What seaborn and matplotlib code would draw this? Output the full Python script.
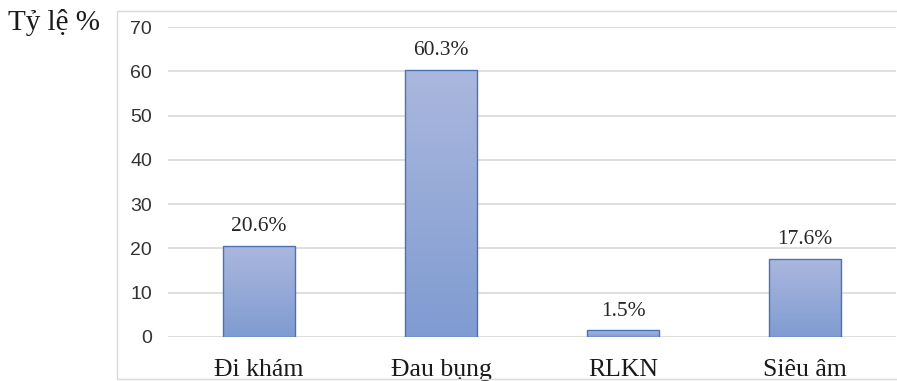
import numpy as np
import pandas as pd
import seaborn as sns
import matplotlib.pyplot as plt
from matplotlib.patches import Rectangle

# data
categories = ["Đi khám", "Đau bụng", "RLKN", "Siêu âm"]
values = [20.6, 60.3, 1.5, 17.6]
labels = ["20.6%", "60.3%", "1.5%", "17.6%"]
yticks = [0, 10, 20, 30, 40, 50, 60, 70]

df = pd.DataFrame({"cat": categories, "val": values})

sns.set_style("white")
plt.rcParams["font.family"] = ["Liberation Serif", "DejaVu Serif"]

fig = plt.figure(figsize=(8.97, 3.81), dpi=100)
ax = fig.add_axes([0.1873, 0.1155, 0.8116, 0.8136])

sns.barplot(data=df, x="cat", y="val", width=0.4, color="#91a7d6",
            edgecolor="#4a72b8", linewidth=1.0, ax=ax, zorder=3)

# gradient fill clipped to each bar
grad = np.linspace(0, 1, 256).reshape(-1, 1)
top_c = np.array([0.67, 0.72, 0.87])
bot_c = np.array([0.50, 0.61, 0.82])
img = top_c + (bot_c - top_c) * grad
img = img.reshape(256, 1, 3)
for p in ax.patches:
    x0, y0 = p.get_x(), p.get_y()
    w, h = p.get_width(), p.get_height()
    im = ax.imshow(img, extent=[x0, x0 + w, y0, y0 + h], aspect="auto",
                   origin="upper", zorder=3.5)
    im.set_clip_path(p)
    p.set_facecolor("none")
    p.set_zorder(4)

for p, lab in zip(ax.patches, labels):
    ax.annotate(lab, (p.get_x() + p.get_width() / 2, p.get_height()),
                xytext=(0, 7), textcoords="offset points",
                ha="center", va="bottom", fontsize=15.5, color="#262626")

ax.set_xlim(-0.5, 3.5)
ax.set_ylim(0, 70)
ax.set_yticks(yticks)
ax.yaxis.grid(True, color="#d9d9d9", linewidth=1.2, zorder=0)
ax.set_axisbelow(True)
for s in ax.spines.values():
    s.set_visible(False)
ax.tick_params(axis="both", length=0)
ax.tick_params(axis="x", pad=16, labelsize=18.5, labelcolor="#1a1a1a")
ax.tick_params(axis="y", pad=11.5, labelsize=14, labelcolor="#333333")
for t in ax.get_yticklabels():
    t.set_family(["Liberation Sans", "DejaVu Sans"])
ax.set_xlabel("")
ax.set_ylabel("")

# outer chart frame
fig.patches.append(Rectangle((0.1304, 0.005), 0.9, 0.966, transform=fig.transFigure,
                             fill=False, edgecolor="#d9d9d9", linewidth=1.0))
fig.text(0.009, 0.94, "Tỷ lệ %", fontsize=21, ha="left", va="center", color="#1a1a1a")

fig.savefig("out.png", dpi=100)
